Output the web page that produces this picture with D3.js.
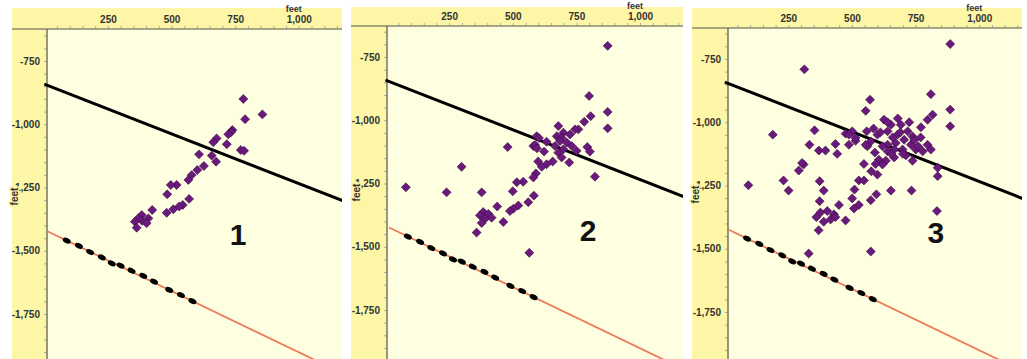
<!DOCTYPE html>
<html>
<head>
<meta charset="utf-8">
<script src="https://cdn.jsdelivr.net/npm/d3@7"></script>
<style>
  body { margin: 0; background: #fff; }
  svg { display: block; font-family: "Liberation Sans", Arial, sans-serif; }
</style>
</head>
<body>
<svg width="1027" height="359"></svg>
<script>
// tick values (feet)
const xTicks = [250, 500, 750, 1000];
const yTicks = [-750, -1000, -1250, -1500, -1750];

// reference lines, [feet east, elevation]
const blackLine = [[0, -841], [1200, -1313]];
const redLine = [[14, -1424], [1200, -1998]];
const dots = [[88, -1460], [136, -1481], [180, -1505], [226, -1526], [265, -1550], [300, -1559],
  [343, -1579], [389, -1599], [431, -1622], [491, -1655], [537, -1675], [582, -1699]];

// scatter for each stage
const points1 = [[782, -900], [857, -961], [789, -980], [739, -1023], [734, -1031], [723, -1040],
  [677, -1056], [664, -1071], [717, -1079], [772, -1102], [785, -1105], [608, -1119], [658, -1124],
  [675, -1148], [627, -1165], [601, -1181], [579, -1201], [566, -1220], [520, -1240], [497, -1240],
  [483, -1277], [569, -1295], [544, -1319], [530, -1325], [507, -1336], [481, -1350], [424, -1339],
  [383, -1359], [384, -1382], [369, -1372], [409, -1372], [356, -1385], [402, -1391], [363, -1409]];

const points2 = [[873, -706], [800, -904], [873, -967], [806, -984], [781, -1006], [873, -1032],
  [758, -1036], [745, -1036], [679, -1023], [699, -1049], [725, -1056], [673, -1063], [692, -1069],
  [686, -1082], [712, -1088], [732, -1102], [666, -1102], [699, -1115], [679, -1128], [751, -1121],
  [793, -1106], [803, -1124], [594, -1063], [603, -1070], [633, -1085], [581, -1102], [588, -1098],
  [595, -1111], [623, -1124], [480, -1106], [692, -1147], [722, -1167], [657, -1163], [633, -1174],
  [600, -1163], [614, -1184], [823, -1223], [591, -1210], [581, -1226], [541, -1243], [516, -1245],
  [299, -1184], [80, -1265], [240, -1285], [378, -1285], [500, -1281], [583, -1298], [561, -1324],
  [522, -1337], [502, -1350], [489, -1359], [439, -1341], [384, -1363], [371, -1376], [404, -1370],
  [417, -1385], [391, -1389], [378, -1406], [463, -1402], [358, -1444], [565, -1524]];

const points3 = [[886, -691], [313, -791], [810, -889], [571, -911], [554, -955], [886, -950],
  [817, -970], [886, -1016], [797, -990], [771, -1020], [353, -1032], [189, -1049], [475, -1045],
  [501, -1036], [514, -1073], [488, -1089], [435, -1086], [333, -1089], [370, -1112], [396, -1112],
  [442, -1125], [558, -1036], [574, -1076], [561, -1095], [600, -1049], [626, -990], [653, -1010],
  [692, -1010], [640, -1036], [679, -1049], [719, -1036], [738, -1056], [705, -1069], [672, -1082],
  [640, -1089], [732, -1089], [699, -1108], [666, -1108], [640, -1115], [751, -1108], [797, -1089],
  [810, -1108], [778, -1115], [712, -1131], [738, -1152], [666, -1139], [633, -1152], [606, -1148],
  [620, -1167], [593, -1165], [547, -1165], [576, -1194], [600, -1207], [837, -1180], [837, -1213],
  [310, -1167], [291, -1191], [304, -1161], [231, -1230], [251, -1270], [93, -1249], [373, -1233],
  [389, -1270], [527, -1230], [547, -1230], [510, -1266], [653, -1270], [734, -1270], [596, -1285],
  [574, -1308], [501, -1301], [527, -1327], [508, -1341], [449, -1327], [373, -1312], [403, -1351],
  [376, -1357], [360, -1375], [429, -1364], [416, -1384], [389, -1393], [435, -1375], [475, -1388],
  [369, -1427], [834, -1351], [330, -1519], [574, -1511], [488, -1049], [514, -1062], [554, -1089],
  [585, -1025], [612, -1040], [690, -1040], [745, -1070], [760, -1095], [700, -1125], [655, -1125],
  [620, -1095], [725, -1000], [680, -985], [640, -1000], [770, -1060], [590, -1120], [660, -1060]];

const stageNames = ["1", "2", "3"];

// layout of the three frames
const panels = [
  { left: 12, top: 8, right: 342, plotL: 47, plotT: 29, ox: 44.3, oy: 61, labelFt: 761, pts: points1 },
  { left: 351, top: 7, right: 683, plotL: 387, plotT: 26, ox: 385.5, oy: 57, labelFt: 796, pts: points2 },
  { left: 692, top: 8, right: 1022, plotL: 728, plotT: 28, ox: 724.7, oy: 59, labelFt: 830, pts: points3 }
];

const H = 359;
const kx = 0.2545, ky = 0.253;
const fmt = d => d3.format(",")(d).replace("\u2212", "-");

const svg = d3.select("svg");

panels.forEach((p, i) => {
  const x = d3.scaleLinear().domain([0, 1000]).range([p.ox, p.ox + 1000 * kx]);
  const y = d3.scaleLinear().domain([-750, -1750]).range([p.oy, p.oy + 1000 * ky]);
  const g = svg.append("g");

  g.append("rect")
    .attr("x", p.left).attr("y", p.top)
    .attr("width", p.right - p.left).attr("height", H - p.top)
    .attr("fill", "#fcf6a6");
  g.append("rect")
    .attr("x", p.plotL).attr("y", p.plotT)
    .attr("width", p.right - p.plotL).attr("height", H - p.plotT)
    .attr("fill", "#fefee0");

  // minor ticks
  const minorX = d3.range(50, 1200, 50).filter(v => x(v) > p.plotL && x(v) < p.right);
  const minorY = d3.range(-650, -1950, -50).filter(v => y(v) > p.plotT);
  g.append("g").attr("transform", `translate(0,${p.plotT})`)
    .call(d3.axisTop(x).tickValues(minorX).tickFormat("").tickSize(3))
    .call(a => a.select(".domain").remove())
    .selectAll("line").attr("stroke", "#aaa");
  g.append("g").attr("transform", `translate(${p.plotL},0)`)
    .call(d3.axisLeft(y).tickValues(minorY).tickFormat("").tickSize(3))
    .call(a => a.select(".domain").remove())
    .selectAll("line").attr("stroke", "#aaa");

  // labelled ticks
  const topAxis = g.append("g").attr("transform", `translate(0,${p.plotT})`)
    .call(d3.axisTop(x).tickValues(xTicks).tickFormat(fmt).tickSize(0).tickPadding(6))
    .call(a => a.select(".domain").remove());
  const leftAxis = g.append("g").attr("transform", `translate(${p.plotL},0)`)
    .call(d3.axisLeft(y).tickValues(yTicks).tickFormat(fmt).tickSize(0).tickPadding(7))
    .call(a => a.select(".domain").remove());
  [topAxis, leftAxis].forEach(a => a.selectAll("text")
    .attr("font-family", "'Liberation Sans', Arial, sans-serif")
    .attr("font-size", 10).attr("font-weight", "bold").attr("fill", "#333"));

  // axis lines
  g.append("line")
    .attr("x1", p.left).attr("x2", p.right).attr("y1", p.plotT).attr("y2", p.plotT)
    .attr("stroke", "#8a8a70").attr("stroke-width", 1.4);
  g.append("line")
    .attr("x1", p.plotL).attr("x2", p.plotL).attr("y1", p.plotT).attr("y2", H)
    .attr("stroke", "#6a6a5a").attr("stroke-width", 1.4);

  // axis titles
  g.append("text")
    .attr("x", x(1000) - 13).attr("y", p.plotT - 17)
    .attr("font-size", 9).attr("font-weight", "bold").attr("fill", "#333")
    .text("feet");
  g.append("text")
    .attr("transform", `translate(${p.ox - 26},${y(-1250) + 9}) rotate(-90)`)
    .attr("text-anchor", "middle")
    .attr("font-size", 10).attr("font-weight", "bold").attr("fill", "#333")
    .attr("stroke", "#fcf6a6").attr("stroke-width", 3).attr("paint-order", "stroke")
    .text("feet");

  // clipped marks
  const clipId = "clip" + i;
  g.append("clipPath").attr("id", clipId).append("rect")
    .attr("x", p.ox - 0.5).attr("y", p.plotT)
    .attr("width", p.right - p.ox + 0.5).attr("height", H - p.plotT);
  const m = g.append("g").attr("clip-path", `url(#${clipId})`);
  const line = d3.line().x(d => x(d[0])).y(d => y(d[1]));

  m.append("path").datum(redLine).attr("d", line)
    .attr("fill", "none").attr("stroke", "#ee7a5c").attr("stroke-width", 1.8);
  m.append("path").datum(blackLine).attr("d", line)
    .attr("fill", "none").attr("stroke", "#000").attr("stroke-width", 3);

  const ang = Math.atan2(y(redLine[1][1]) - y(redLine[0][1]), x(redLine[1][0]) - x(redLine[0][0])) * 180 / Math.PI;
  m.selectAll("ellipse").data(dots).join("ellipse")
    .attr("transform", d => `translate(${x(d[0])},${y(d[1])}) rotate(${ang})`)
    .attr("rx", 4.2).attr("ry", 2.6).attr("fill", "#000");

  m.selectAll("path.pt").data(p.pts).join("path")
    .attr("class", "pt")
    .attr("transform", d => `translate(${x(d[0])},${y(d[1])}) rotate(45)`)
    .attr("d", d3.symbol(d3.symbolSquare, 40))
    .attr("fill", "#6a1a7c").attr("stroke", "#3a0848").attr("stroke-width", 0.6);

  g.append("text")
    .attr("x", x(p.labelFt)).attr("y", y(-1476))
    .attr("text-anchor", "middle")
    .attr("font-size", 30).attr("font-weight", "bold").attr("fill", "#111")
    .text(stageNames[i]);
});
</script>
</body>
</html>
